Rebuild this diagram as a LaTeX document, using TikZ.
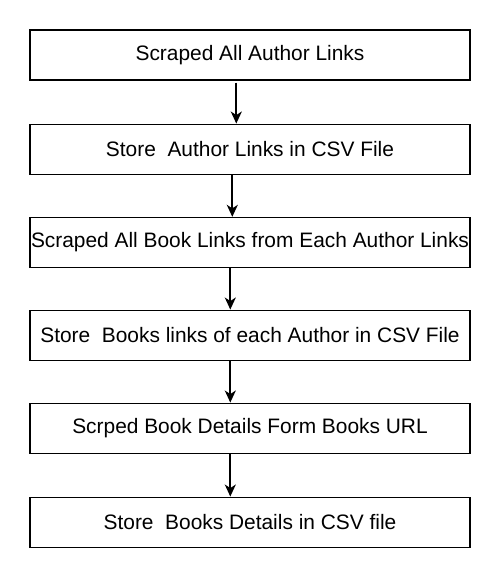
\documentclass[tikz,border=0pt]{standalone}
\usepackage{fontspec}
\setmainfont{Liberation Sans}
\usetikzlibrary{arrows.meta,positioning}

\begin{document}
\begin{tikzpicture}[
  x=1pt, y=1pt,
  font=\fontsize{20.9}{24}\selectfont,
  stepbox/.style={draw=black, fill=white, line width=1.1pt, minimum width=440pt, minimum height=50pt, inner sep=0pt},
  arr/.style={-{Stealth[length=12pt,width=11pt,inset=3.5pt]}, line width=1.7pt, black},
]
\useasboundingbox (0,0) rectangle (502,578);
\node[stepbox] (authors) at (250,523) {Scraped All Author Links};
\node[stepbox, below=43pt of authors] (storeauthors) {Store\ \ Author Links in CSV File};
\node[stepbox, below=42.2pt of storeauthors] (books) {Scraped All Book Links from Each Author Links};
\node[stepbox, below=41.6pt of books] (storebooks) {Store\ \ Books links of each Author in CSV File};
\node[stepbox, below=41.9pt of storebooks] (details) {Scrped Book Details Form Books URL};
\node[stepbox, below=42.9pt of details] (storedetails) {Store\ \ Books Details in CSV file};
\draw[arr] ([xshift=-13.7pt,yshift=-2pt]authors.south) -- ([xshift=-13.7pt]storeauthors.north);
\draw[arr] ([xshift=-17.7pt]storeauthors.south) -- ([xshift=-17.7pt]books.north);
\draw[arr] ([xshift=-19.7pt]books.south) -- ([xshift=-19.7pt]storebooks.north);
\draw[arr] ([xshift=-19.7pt]storebooks.south) -- ([xshift=-19.7pt]details.north);
\draw[arr] ([xshift=-19.7pt]details.south) -- ([xshift=-19.7pt]storedetails.north);
\end{tikzpicture}
\end{document}
